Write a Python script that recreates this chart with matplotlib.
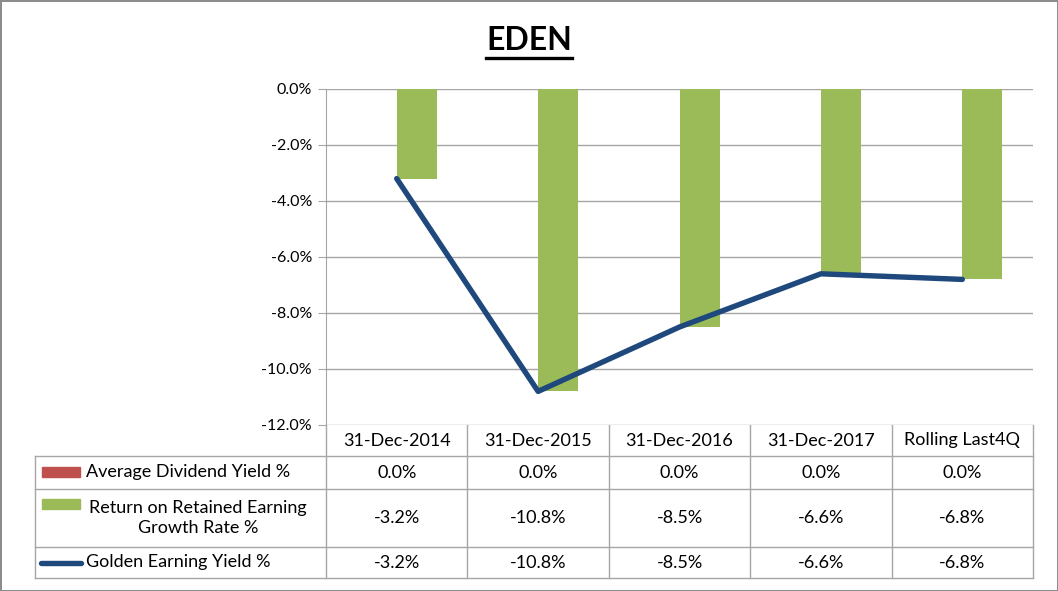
import matplotlib
matplotlib.use("Agg")
import matplotlib.pyplot as plt
from matplotlib.patches import Rectangle
from matplotlib.lines import Line2D
from matplotlib.ticker import FuncFormatter

plt.rcParams['font.family'] = ['Lato', 'DejaVu Sans']

######################################################################
# Data
categories = ["31-Dec-2014", "31-Dec-2015", "31-Dec-2016", "31-Dec-2017", "Rolling Last4Q"]
dividend_yield = [0.0, 0.0, 0.0, 0.0, 0.0]
retained_growth = [-3.2, -10.8, -8.5, -6.6, -6.8]
golden_yield = [-3.2, -10.8, -8.5, -6.6, -6.8]
series_names = ["Average Dividend Yield %", "Return on Retained Earning\nGrowth Rate %", "Golden Earning Yield %"]
yticks = [0, -2, -4, -6, -8, -10, -12]

RED = "#C0504D"
GREEN = "#9BBB59"
BLUE = "#1F497D"
GRID = "#A6A6A6"

W, H = 1058, 591
fig = plt.figure(figsize=(W / 100, H / 100), dpi=100)
fig.patch.set_edgecolor("#8C8C8C")
fig.patch.set_linewidth(2)


def fx(px):
    return px / W


def fy(py):
    return 1 - py / H


######################################################################
# Plot area (pixel layout of the Excel chart)
left, right, top, bottom = 326, 1033, 89, 425
ax = fig.add_axes([fx(left), fy(bottom), fx(right - left), (bottom - top) / H])

n = len(categories)
xs = [i + 0.5 for i in range(n)]
bw = 0.283
ax.bar([x - bw / 2 for x in xs], dividend_yield, width=bw, color=RED, zorder=2)
ax.bar([x + bw / 2 for x in xs], retained_growth, width=bw, color=GREEN, zorder=2)
ax.plot(xs, golden_yield, color=BLUE, lw=3.9, solid_capstyle="round", solid_joinstyle="round", zorder=3)

ax.set_xlim(0, n)
ax.set_ylim(-12, 0)
ax.set_yticks(yticks)
ax.yaxis.set_major_formatter(FuncFormatter(lambda v, p: f"{v:.1f}%"))
ax.set_xticks([])
ax.tick_params(axis="y", length=6, color=GRID, labelsize=11.5, pad=4)
ax.grid(axis="y", color=GRID, lw=1, zorder=0)
for s in ["top", "right", "bottom"]:
    ax.spines[s].set_visible(False)
ax.spines["left"].set_color(GRID)

######################################################################
# Title with underline
fig.text(fx(529), fy(41), "EDEN", ha="center", va="center", fontsize=23, fontweight="bold")
fig.add_artist(Line2D([fx(486), fx(572)], [fy(58), fy(58)], color="black", lw=2.4))

######################################################################
# Data table below the plot
tab = fig.add_axes([0, 0, 1, 1], zorder=-1)
tab.set_xlim(0, W)
tab.set_ylim(H, 0)
tab.axis("off")

col_w = (right - left) / n
row_y = [425, 456, 489, 547, 578]
for y in row_y[1:]:
    tab.plot([35, right], [y, y], color=GRID, lw=1)
tab.plot([35, 35], [row_y[1], row_y[-1]], color=GRID, lw=1)
for i in range(n + 1):
    x = left + i * col_w
    tab.plot([x, x], [row_y[0], row_y[-1]], color=GRID, lw=1)

fs = 13
for i, cat in enumerate(categories):
    cx = left + (i + 0.5) * col_w
    tab.text(cx, (row_y[0] + row_y[1]) / 2, cat, ha="center", va="center", fontsize=fs)
    for r, vals in enumerate([dividend_yield, retained_growth, golden_yield]):
        tab.text(cx, (row_y[r + 1] + row_y[r + 2]) / 2, f"{vals[i]:.1f}%", ha="center", va="center", fontsize=fs)

# legend keys and series names
tab.add_patch(Rectangle((42, 467), 38, 10, color=RED))
tab.add_patch(Rectangle((42, 499), 38, 10, color=GREEN))
tab.plot([41, 81], [563, 563], color=BLUE, lw=3.9, solid_capstyle="round")
tab.text(86, (row_y[1] + row_y[2]) / 2, series_names[0], ha="left", va="center", fontsize=fs)
tab.text(198, (row_y[2] + row_y[3]) / 2, series_names[1], ha="center", va="center", fontsize=fs,
         multialignment="center", linespacing=1.3)
tab.text(86, (row_y[3] + row_y[4]) / 2, series_names[2], ha="left", va="center", fontsize=fs)

fig.savefig("out.png", dpi=100)
